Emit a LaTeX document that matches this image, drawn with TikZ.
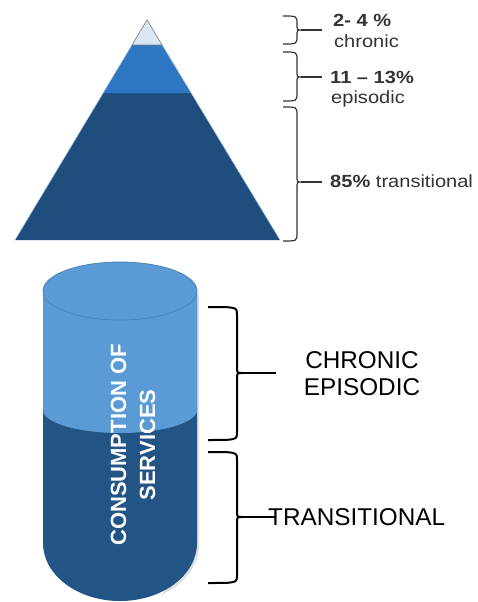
\documentclass[tikz,border=0pt]{standalone}
\usepackage{fontspec}
\setmainfont{Liberation Sans}
\newfontfamily\widefont[FakeStretch=1.14]{Liberation Sans}
\definecolor{pdark}{HTML}{1F4E7E}
\definecolor{pmid}{HTML}{2F76C2}
\definecolor{ptip}{HTML}{DAE6F4}
\definecolor{clight}{HTML}{5B9BD5}
\definecolor{cedge}{HTML}{4A84BF}
\definecolor{cdark}{HTML}{235486}
\definecolor{labgray}{HTML}{333333}
\newcommand{\mybrace}[6]{% #1 x hook, #2 x vertical, #3 x point, #4 y top, #5 y mid, #6 y bottom
  \draw (#1,#4) .. controls (#2,#4) .. (#2,#4+8) -- (#2,#5-7)
    .. controls (#2,#5) .. (#3,#5) .. controls (#2,#5) .. (#2,#5+7)
    -- (#2,#6-8) .. controls (#2,#6) .. (#1,#6);}
\tikzset{
  topbrace/.style={draw=labgray,line width=1.2pt},
  botbrace/.style={draw=black,line width=2pt},
  toplab/.style={anchor=base west,inner sep=0pt,text=labgray,font=\widefont\fontsize{17.6}{20}\selectfont},
  botlab/.style={inner sep=0pt,text=black,font=\fontsize{24.3}{27}\selectfont},
}
\begin{document}
\begin{tikzpicture}[x=1pt,y=-1pt]
\useasboundingbox (0,0) rectangle (477,602);
% ---------- pyramid ----------
\fill[pdark] (147,20) -- (280,240) -- (15,240) -- cycle;
\fill[pmid] (132,45) -- (162.1,45) -- (191.1,93) -- (103.2,93) -- cycle;
\filldraw[fill=ptip,draw=gray,line width=0.6pt] (147,20) -- (162.1,45) -- (132,45) -- cycle;
\draw[line width=0.5pt,draw=clight!60] (132,45) -- (15,240);
\draw[line width=0.5pt,draw=clight!60] (162.1,45) -- (280,240);
% ---------- top braces and labels ----------
\begin{scope}[topbrace]
\mybrace{283}{297}{301}{16}{30}{44}
\mybrace{283}{297}{301}{52}{77}{101}
\mybrace{283}{297}{301}{107}{182}{241}
\end{scope}
\coordinate (b1) at (301,30);
\coordinate (b2) at (301,77);
\coordinate (b3) at (301,182);
\coordinate (t1) at (322,30);
\coordinate (t2) at (322,77);
\coordinate (t3) at (322,182);
\draw[topbrace] (b1) -- (t1);
\draw[topbrace] (b2) -- (t2);
\draw[topbrace] (b3) -- (t3);
\node[toplab] (l1a) at (333,27) {\bfseries 2- 4 \%};
\node[toplab] (l1b) at (334,48) {chronic};
\node[toplab] (l2a) at (330,83) {\bfseries 11 – 13\%};
\node[toplab] (l2b) at (331,103) {episodic};
\node[toplab] (l3) at (330,187) {\textbf{85\%} transitional};
% ---------- cylinder ----------
\fill[black!12] (199,295) -- (199,545) arc[start angle=0,end angle=-60,x radius=77pt,y radius=58pt] -- (190,560) -- (194,295) -- cycle;
\fill[cdark] (43,291) -- (43,543) arc[start angle=180,end angle=360,x radius=77pt,y radius=58pt] -- (197,291) -- cycle;
\fill[clight] (43,291) -- (43,410) arc[start angle=180,end angle=360,x radius=77pt,y radius=23pt] -- (197,291) -- cycle;
\filldraw[fill=clight,draw=cedge,line width=0.8pt] (120,291) ellipse[x radius=77pt,y radius=29pt];
\node[rotate=90,align=center,text=white,inner sep=0pt,
      font=\bfseries\fontsize{22}{29}\selectfont] (cyl) at (133,445) {CONSUMPTION OF\\SERVICES};
% ---------- bottom braces and labels ----------
\begin{scope}[botbrace]
\mybrace{208}{237}{242}{307}{373}{440}
\mybrace{208}{237}{242}{452}{517}{583}
\end{scope}
\coordinate (c1) at (242,373);
\coordinate (c2) at (242,517);
\coordinate (d1) at (276,373);
\coordinate (d2) at (276,517);
\draw[botbrace] (c1) -- (d1);
\draw[botbrace] (c2) -- (d2);
\node[botlab,anchor=base] (ch) at (362,368) {CHRONIC};
\node[botlab,anchor=base] (ep) at (362,395) {EPISODIC};
\node[botlab,anchor=base west] (tr) at (268,525) {TRANSITIONAL};
\end{tikzpicture}
\end{document}
